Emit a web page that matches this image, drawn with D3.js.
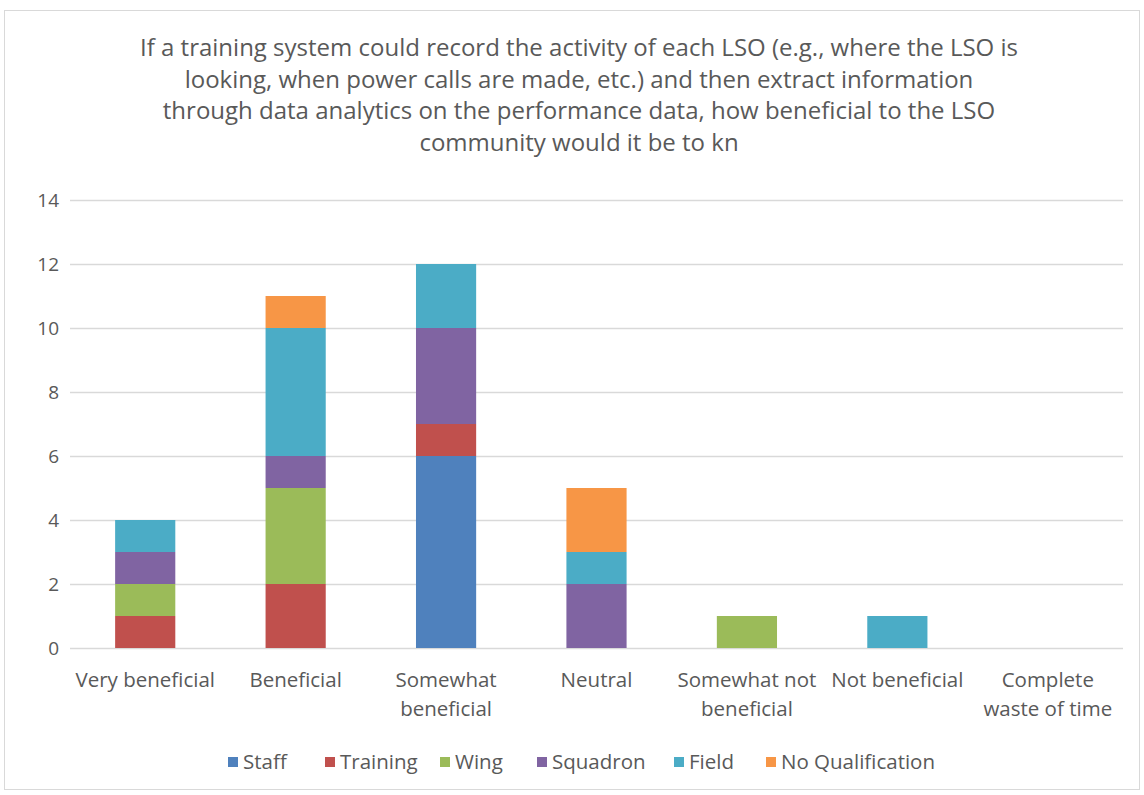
<!DOCTYPE html>
<html>
<head>
<meta charset="utf-8">
<script src="https://cdn.jsdelivr.net/npm/d3@7"></script>
<style>
  body { margin: 0; background: #fff; }
  text { font-family: "Open Sans", "Noto Sans", sans-serif; fill: #595959; }
</style>
</head>
<body>
<script>
// chart data
const categories = [
  ["Very beneficial"],
  ["Beneficial"],
  ["Somewhat", "beneficial"],
  ["Neutral"],
  ["Somewhat not", "beneficial"],
  ["Not beneficial"],
  ["Complete", "waste of time"]
];
const seriesNames = ["Staff", "Training", "Wing", "Squadron", "Field", "No Qualification"];
const staff     = [0, 0, 6, 0, 0, 0, 0];
const training  = [1, 2, 1, 0, 0, 0, 0];
const wing      = [1, 3, 0, 0, 1, 0, 0];
const squadron  = [1, 1, 3, 2, 0, 0, 0];
const field     = [1, 4, 2, 1, 0, 1, 0];
const noQual    = [0, 1, 0, 2, 0, 0, 0];
const yTicks = [0, 2, 4, 6, 8, 10, 12, 14];
const titleLines = [
  "If a training system could record the activity of each LSO (e.g., where the LSO is",
  "looking, when power calls are made, etc.) and then extract information",
  "through data analytics on the performance data, how beneficial to the LSO",
  "community would it be to kn"
];

const colors = ["#4f81bd", "#c0504d", "#9bbb59", "#8064a2", "#4bacc6", "#f79646"];
const allSeries = [staff, training, wing, squadron, field, noQual];

const width = 1144, height = 795;
const margin = {top: 200, bottom: 147, left: 70, right: 21};

const svg = d3.select("body").append("svg")
  .attr("width", width)
  .attr("height", height);

// outer frame
svg.append("rect")
  .attr("x", 4.5).attr("y", 10.5)
  .attr("width", 1135).attr("height", 779)
  .attr("fill", "#fff")
  .attr("stroke", "#d9d9d9");

// title
svg.append("g").selectAll("text")
  .data(titleLines)
  .join("text")
  .attr("x", 579)
  .attr("y", (d, i) => 56 + i * 31.5)
  .attr("text-anchor", "middle")
  .style("font-size", "24px")
  .text(d => d);

// table for stacking
const rows = categories.map((c, i) => {
  const row = {cat: c.join(" ")};
  seriesNames.forEach((s, j) => row[s] = allSeries[j][i]);
  return row;
});
const stacked = d3.stack().keys(seriesNames)(rows);

const x = d3.scaleBand()
  .domain(rows.map(d => d.cat))
  .range([margin.left, width - margin.right])
  .paddingInner(0.6)
  .paddingOuter(0.3);

const y = d3.scaleLinear()
  .domain([0, 14])
  .range([height - margin.bottom, margin.top]);

// gridlines
svg.append("g")
  .attr("transform", `translate(${margin.left},0)`)
  .call(d3.axisLeft(y).tickValues(yTicks).tickSize(-(width - margin.left - margin.right)).tickFormat(""))
  .call(g => g.select(".domain").remove())
  .selectAll(".tick line")
  .attr("stroke", "#d9d9d9")
  .attr("stroke-width", 1.5);

// y labels
svg.append("g").selectAll("text")
  .data(yTicks)
  .join("text")
  .attr("x", 59)
  .attr("y", d => y(d))
  .attr("dy", "0.35em")
  .attr("text-anchor", "end")
  .style("font-size", "19px")
  .text(d => d);

// bars
svg.append("g").selectAll("g")
  .data(stacked)
  .join("g")
  .attr("fill", (d, i) => colors[i])
  .selectAll("rect")
  .data(d => d.filter(v => v[1] > v[0]))
  .join("rect")
  .attr("x", d => x(d.data.cat))
  .attr("width", x.bandwidth())
  .attr("y", d => y(d[1]))
  .attr("height", d => y(d[0]) - y(d[1]));

// x labels
svg.append("g").selectAll("text")
  .data(categories)
  .join("text")
  .attr("x", (d, i) => x(rows[i].cat) + x.bandwidth() / 2)
  .attr("y", 687)
  .attr("text-anchor", "middle")
  .style("font-size", "20.5px")
  .selectAll("tspan")
  .data(d => d)
  .join("tspan")
  .attr("x", function() { return d3.select(this.parentNode).attr("x"); })
  .attr("dy", (d, i) => i === 0 ? 0 : 29)
  .text(d => d);

// legend
const legendX = [228, 325, 440, 537, 674, 766];
const legend = svg.append("g").selectAll("g")
  .data(seriesNames)
  .join("g")
  .attr("transform", (d, i) => `translate(${legendX[i]},762)`);
legend.append("rect")
  .attr("x", 0).attr("y", -5)
  .attr("width", 10).attr("height", 10)
  .attr("fill", (d, i) => colors[i]);
legend.append("text")
  .attr("x", 15)
  .attr("dy", "0.35em")
  .style("font-size", "20.5px")
  .text(d => d);
</script>
</body>
</html>
